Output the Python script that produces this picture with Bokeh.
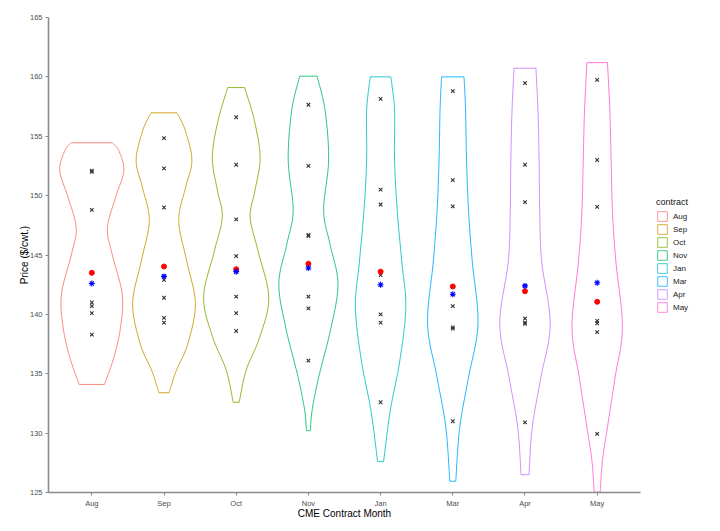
import numpy as np
from bokeh.plotting import figure
from bokeh.layouts import row
from bokeh.models import Range1d, FixedTicker, Legend, LegendItem
from bokeh.embed import file_html
from bokeh.resources import INLINE

months = ["Aug", "Sep", "Oct", "Nov", "Jan", "Mar", "Apr", "May"]
colors = ["#F8766D", "#CD9600", "#7CAE00", "#00BE67", "#00BFC4", "#00A9FF", "#C77CFF", "#FF61CC"]

# violin density profiles: price level and half-width (in category units * 72.5)
aug_lv = [154.45, 153.8, 152.1, 149.9, 147.3, 145.1, 141.7, 138.9, 136.4, 134.1]
aug_w = [20.7, 27, 32.2, 24, 15.7, 20.3, 30.5, 28.8, 22.2, 12.7]
sep_lv = [156.97, 155.5, 152.96, 150.7, 147.9, 144.5, 140.9, 137.5, 135.3, 133.4]
sep_w = [13, 21.3, 28, 21.7, 14.8, 22.8, 31.5, 23.8, 12.5, 5]
oct_lv = [159.1, 156.3, 153.2, 150.4, 148.2, 145.4, 141.45, 138.1, 135.3, 132.6]
oct_w = [8.5, 18.3, 24, 18.8, 14, 21.7, 32.7, 23.7, 10, 3]
nov_lv = [160.06, 157.2, 153.0, 148.75, 145.9, 142.6, 138.9, 134.7, 131.9, 130.2]
nov_w = [8.7, 16.7, 20.3, 15.3, 21.7, 29.7, 22.8, 10.3, 3.7, 2]
jan_lv = [160.0, 157.2, 153.0, 148.75, 144.5, 140.6, 136.1, 131.9, 127.6]
jan_w = [10.3, 14, 14, 16.7, 21.2, 25.3, 19.3, 9.7, 3]
mar_lv = [160.0, 157.2, 153.0, 148.75, 144.5, 139.2, 134.7, 130.5, 125.95]
mar_w = [11.3, 12.8, 13.8, 15.8, 19.5, 25.3, 15.8, 7, 3]
apr_lv = [160.73, 157.2, 153.0, 148.75, 144.5, 139.2, 134.7, 130.5, 126.5]
apr_w = [11, 13, 14.2, 14.8, 16.7, 25.3, 16, 7.3, 4]
may_lv = [161.2, 157.2, 153.0, 148.75, 144.5, 138.9, 134.7, 130.5, 127.7, 125.03]
may_w = [10.3, 12.7, 14, 15.3, 18.7, 25.3, 18, 10.3, 5.3, 3]

levels = [aug_lv, sep_lv, oct_lv, nov_lv, jan_lv, mar_lv, apr_lv, may_lv]
widths = [aug_w, sep_w, oct_w, nov_w, jan_w, mar_w, apr_w, may_w]

# observed prices (x markers)
aug_pts = [152.0, 152.1, 148.8, 141.0, 140.7, 140.1, 138.3]
sep_pts = [154.84, 152.3, 149.0, 142.9, 141.4, 139.7, 139.3]
oct_pts = [156.6, 152.6, 148.0, 144.9, 141.5, 140.1, 138.6]
nov_pts = [157.65, 152.5, 146.7, 146.6, 141.5, 140.5, 136.1]
jan_pts = [158.15, 150.5, 149.25, 143.3, 140.0, 139.3, 132.6]
mar_pts = [158.8, 151.3, 149.1, 140.7, 138.9, 138.8, 131.0]
apr_pts = [159.47, 152.6, 149.45, 139.65, 139.3, 139.2, 130.9]
may_pts = [159.75, 153.0, 149.05, 139.45, 139.25, 138.5, 129.94]
points = [aug_pts, sep_pts, oct_pts, nov_pts, jan_pts, mar_pts, apr_pts, may_pts]

red_vals = [143.5, 144.03, 143.8, 144.26, 143.6, 142.35, 141.95, 141.06]
blue_vals = [142.6, 143.2, 143.6, 143.9, 142.5, 141.7, 142.4, 142.66]

y_ticks = [125, 130, 135, 140, 145, 150, 155, 160, 165]

FONT = "Liberation Sans"


def catmull(ws, ps, n=12):
    P = np.column_stack([ws, ps]).astype(float)
    P = np.vstack([P[0], P, P[-1]])
    out = []
    for i in range(1, len(P) - 2):
        p0, p1, p2, p3 = P[i - 1], P[i], P[i + 1], P[i + 2]
        for t in np.linspace(0, 1, n, endpoint=False):
            t2, t3 = t * t, t * t * t
            pt = 0.5 * ((2 * p1) + (-p0 + p2) * t + (2 * p0 - 5 * p1 + 4 * p2 - p3) * t2
                        + (-p0 + 3 * p1 - 3 * p2 + p3) * t3)
            out.append(pt)
    out.append(P[-2])
    out = np.array(out)
    return out[:, 0], out[:, 1]


p = figure(width=656, height=531, output_backend="svg", toolbar_location=None,
           x_range=Range1d(0.4, 8.6), y_range=Range1d(125, 165),
           min_border_left=48, min_border_top=17, min_border_bottom=39, min_border_right=16)
p.grid.visible = False
p.outline_line_color = None
p.background_fill_color = "white"

for i, m in enumerate(months):
    cx = i + 1
    w, y = catmull(np.array(widths[i]) / 72.5, levels[i])
    xs = list(cx + w) + list((cx - w)[::-1])
    ys = list(y) + list(y[::-1])
    p.patch(xs, ys, fill_color="white", fill_alpha=0.0, line_color=colors[i], line_width=1.0,
            line_alpha=0.85)
    p.scatter([cx] * len(points[i]), points[i], marker="x", size=5, line_color="#333333", line_width=1.1)

p.scatter(list(range(1, 9)), red_vals, marker="circle", size=5, fill_color="red", line_color="red")
p.scatter(list(range(1, 9)), blue_vals, marker="asterisk", size=6, line_color="blue", line_width=1.1)

for ax in (p.xaxis, p.yaxis):
    ax.axis_line_color = "#8a8a8a"
    ax.axis_line_width = 1.6
    ax.major_tick_line_color = "#8a8a8a"
    ax.major_tick_out = 3
    ax.major_tick_in = 0
    ax.minor_tick_line_color = None
    ax.major_label_text_font = FONT
    ax.major_label_text_font_size = "7.5px"
    ax.major_label_text_color = "#4d4d4d"
    ax.axis_label_text_font = FONT
    ax.axis_label_text_font_size = "10px"
    ax.axis_label_text_font_style = "normal"
    ax.axis_label_text_color = "black"
    ax.major_label_standoff = 3
    ax.axis_label_standoff = -3

p.xaxis.ticker = FixedTicker(ticks=list(range(1, 9)))
p.xaxis.major_label_overrides = {i + 1: m for i, m in enumerate(months)}
p.xaxis.axis_label = "CME Contract Month"
p.yaxis.ticker = FixedTicker(ticks=y_ticks)
p.yaxis.axis_label = "Price ($/cwt.)"

# legend panel (key glyphs drawn from off-screen proxy patches)
lp = figure(width=64, height=531, output_backend="svg", toolbar_location=None,
            x_range=Range1d(0, 1), y_range=Range1d(0, 1),
            min_border_left=0, min_border_right=0, min_border_top=0, min_border_bottom=0)
lp.axis.visible = False
lp.grid.visible = False
lp.outline_line_color = None
items = []
for i, m in enumerate(months):
    r = lp.patch(x=[5, 6, 6], y=[5, 5, 6], fill_color="white", fill_alpha=0.0,
                 line_color=colors[i], line_width=1.0, line_alpha=0.75)
    items.append(LegendItem(label=m, renderers=[r]))

legend = Legend(items=items, title="contract", title_text_font=FONT, title_text_font_size="9px",
                title_text_font_style="normal", label_text_font=FONT, label_text_font_size="8px",
                label_text_color="#222222", title_text_color="#111111",
                glyph_width=12, glyph_height=12, label_height=12, spacing=1, padding=0,
                label_standoff=5, border_line_color=None, background_fill_alpha=0.0,
                margin=0, title_standoff=3, location=(0, 179))
lp.add_layout(legend, "center")

layout = row(p, lp, spacing=0)
open("out.html", "w").write(file_html(layout, INLINE))
